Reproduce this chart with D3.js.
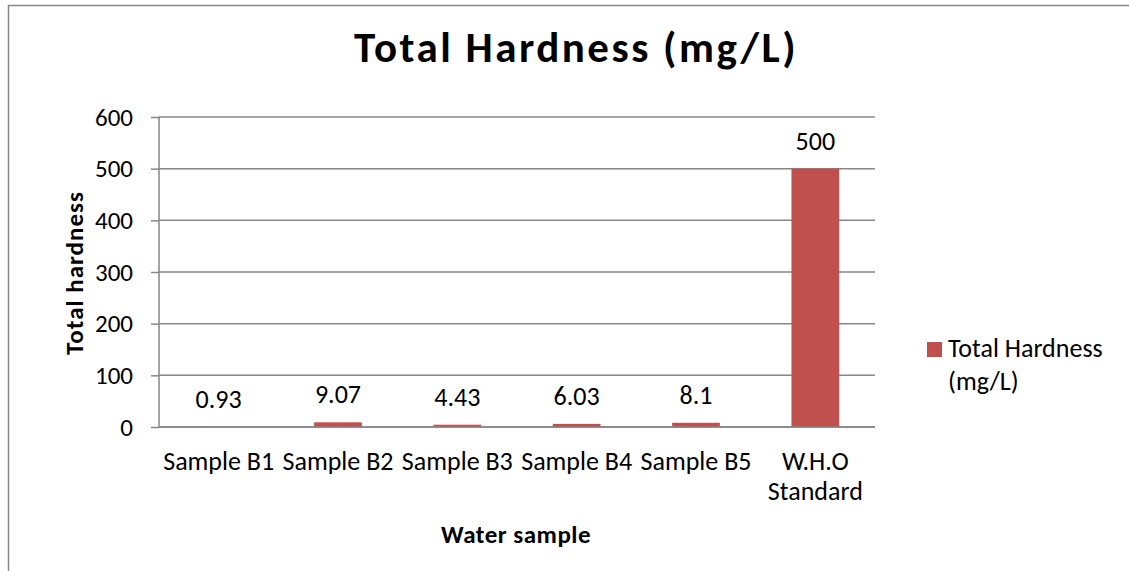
<!DOCTYPE html>
<html lang="en">
<head>
<meta charset="utf-8">
<title>Total Hardness (mg/L)</title>
<script src="https://cdn.jsdelivr.net/npm/d3@7"></script>
<style>
  body { margin: 0; background: #fff; }
  text { font-family: Carlito, Calibri, Lato, "Open Sans", sans-serif; fill: #000; }
</style>
</head>
<body>
<script>
// chart data
var categories = ["Sample B1", "Sample B2", "Sample B3", "Sample B4", "Sample B5", "W.H.O Standard"];
var hardness = [0.93, 9.07, 4.43, 6.03, 8.1, 500];
var yTicks = [0, 100, 200, 300, 400, 500, 600];
var seriesName = "Total Hardness (mg/L)";

var width = 1129, height = 571;
var plot = { left: 159, right: 875, top: 117, bottom: 427 };
var barColor = "#C0504D";
var gridColor = "#868686";

var svg = d3.select("body").append("svg")
    .attr("width", width)
    .attr("height", height);

// outer chart border (only top and left visible)
svg.append("path")
    .attr("d", "M8.5," + height + "V5.5H" + width)
    .attr("fill", "none")
    .attr("stroke", "#888")
    .attr("stroke-width", 1.5);

var x = d3.scaleBand()
    .domain(categories)
    .range([plot.left, plot.right])
    .paddingInner(0.6)
    .paddingOuter(0.3);

var y = d3.scaleLinear()
    .domain([0, 600])
    .range([plot.bottom, plot.top]);

// y axis ticks + labels
var yAxis = svg.append("g")
    .attr("transform", "translate(" + plot.left + ",0)")
    .call(d3.axisLeft(y).tickValues(yTicks).tickSize(8).tickPadding(18));
yAxis.select(".domain").remove();
yAxis.selectAll(".tick line").attr("stroke", gridColor).attr("stroke-width", 1.5);
yAxis.selectAll(".tick text")
    .style("font-size", "25px")
    .style("font-family", "Carlito, Calibri, Lato, 'Open Sans', sans-serif");

// gridlines
svg.append("g")
    .selectAll("line")
    .data(yTicks)
    .join("line")
    .attr("x1", plot.left)
    .attr("x2", plot.right)
    .attr("y1", function(d) { return y(d); })
    .attr("y2", function(d) { return y(d); })
    .attr("stroke", gridColor)
    .attr("stroke-width", 1.5);

svg.append("line")
    .attr("x1", plot.left).attr("x2", plot.left)
    .attr("y1", plot.top).attr("y2", plot.bottom)
    .attr("stroke", gridColor)
    .attr("stroke-width", 1.5);

// bars
svg.append("g")
    .selectAll("rect")
    .data(hardness)
    .join("rect")
    .attr("x", function(d, i) { return x(categories[i]); })
    .attr("width", x.bandwidth())
    .attr("y", function(d) { return y(d); })
    .attr("height", function(d) { return y(0) - y(d); })
    .attr("fill", barColor);

// zero line over the bars
svg.append("line")
    .attr("x1", plot.left).attr("x2", plot.right)
    .attr("y1", y(0)).attr("y2", y(0))
    .attr("stroke", gridColor)
    .attr("stroke-width", 1.5);

// data labels
svg.append("g")
    .selectAll("text")
    .data(hardness)
    .join("text")
    .attr("x", function(d, i) { return x(categories[i]) + x.bandwidth() / 2; })
    .attr("y", function(d) { return y(d) - 19; })
    .attr("text-anchor", "middle")
    .style("font-size", "26px")
    .text(function(d) { return d; });

// category labels (W.H.O Standard wraps)
var xLabels = svg.append("g")
    .selectAll("text")
    .data(categories)
    .join("text")
    .attr("x", function(d) { return x(d) + x.bandwidth() / 2; })
    .attr("y", 470)
    .attr("text-anchor", "middle")
    .style("font-size", "26px");
xLabels.each(function(d) {
    var t = d3.select(this);
    var lines = d.indexOf("W.H.O") === 0 ? ["W.H.O", "Standard"] : [d];
    lines.forEach(function(s, k) {
        t.append("tspan")
            .attr("x", x(d) + x.bandwidth() / 2)
            .attr("dy", k === 0 ? 0 : 30)
            .text(s);
    });
});

// title
svg.append("text")
    .attr("x", 576)
    .attr("y", 62)
    .attr("text-anchor", "middle")
    .style("font-size", "43px")
    .style("font-weight", "bold")
    .style("letter-spacing", "2.5px")
    .text(seriesName);

// axis titles
svg.append("text")
    .attr("x", 516)
    .attr("y", 543)
    .attr("text-anchor", "middle")
    .style("font-size", "25px")
    .style("font-weight", "bold")
    .style("letter-spacing", "0.5px")
    .text("Water sample");

svg.append("text")
    .attr("transform", "translate(83,273) rotate(-90)")
    .attr("text-anchor", "middle")
    .style("font-size", "25px")
    .style("font-weight", "bold")
    .style("letter-spacing", "1px")
    .text("Total hardness");

// legend
var legend = svg.append("g");
legend.append("rect")
    .attr("x", 927).attr("y", 342)
    .attr("width", 15).attr("height", 15)
    .attr("fill", barColor);
legend.append("text")
    .attr("x", 948).attr("y", 357)
    .style("font-size", "26px")
    .selectAll("tspan")
    .data(["Total Hardness", "(mg/L)"])
    .join("tspan")
    .attr("x", 948)
    .attr("dy", function(d, i) { return i === 0 ? 0 : 33; })
    .text(function(d) { return d; });
</script>
</body>
</html>
